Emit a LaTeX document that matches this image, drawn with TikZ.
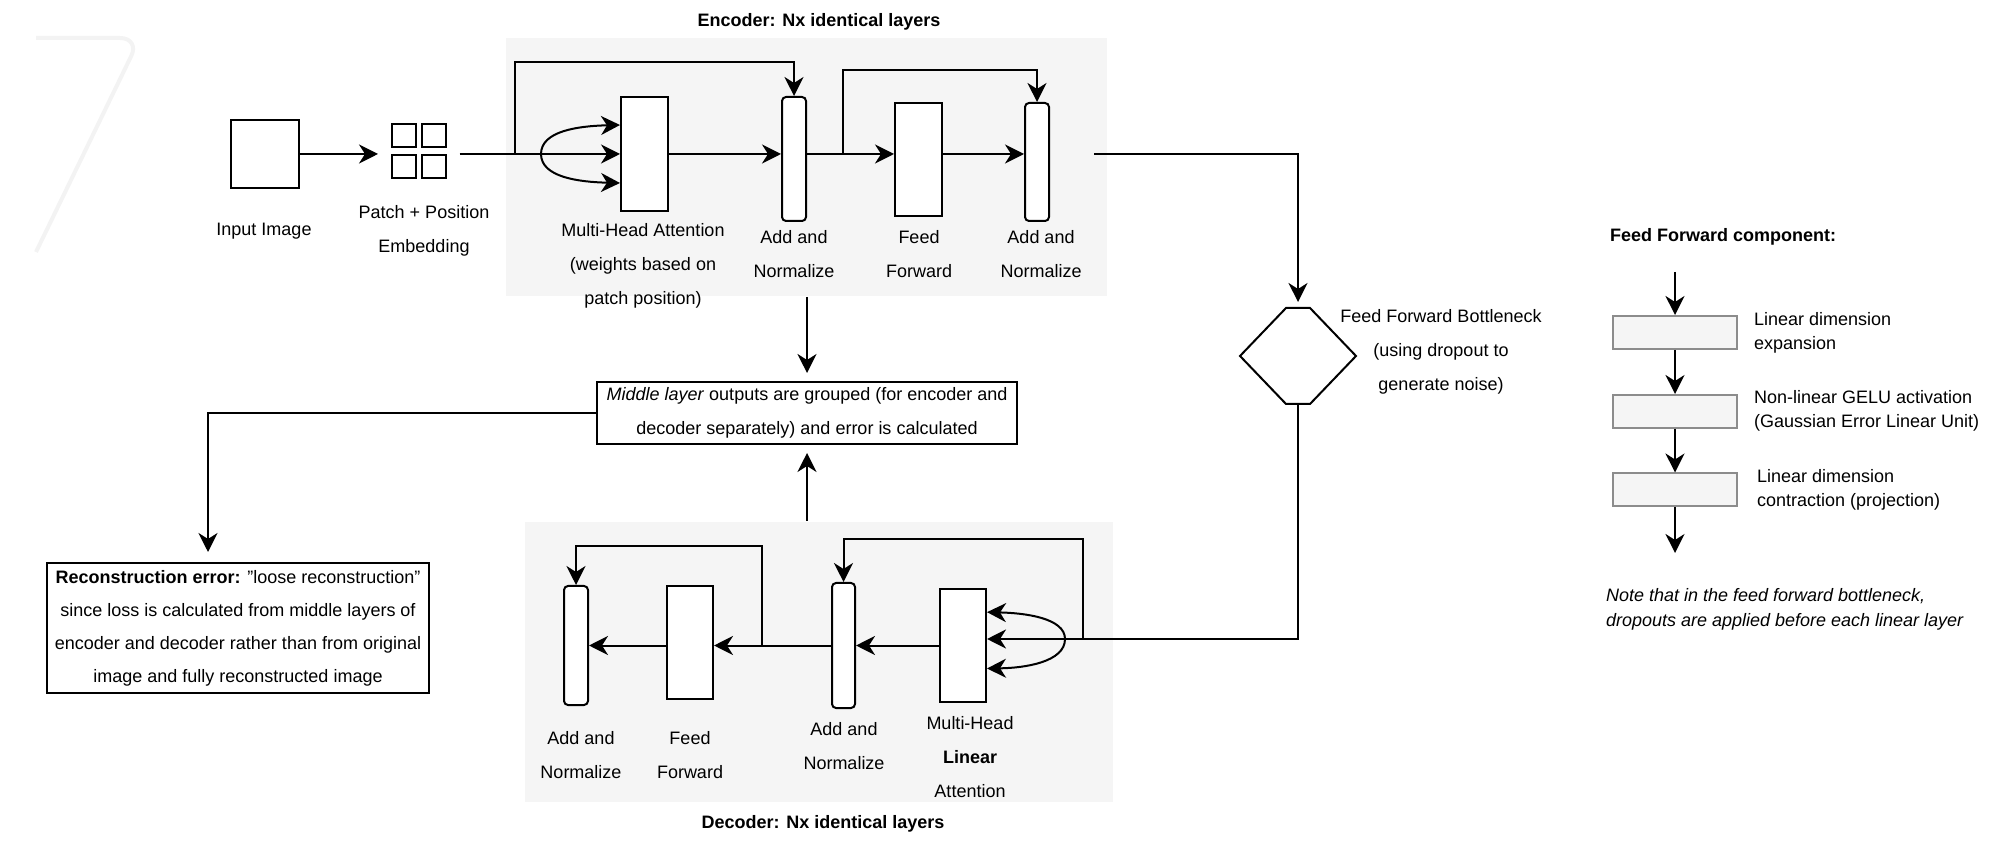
\documentclass[tikz,border=0pt]{standalone}
\usepackage{fontspec}
\setmainfont{Liberation Sans}
\usetikzlibrary{arrows.meta,calc,fit}
\definecolor{bgfill}{HTML}{F5F5F5}
\definecolor{ffborder}{HTML}{8C8C8C}
\definecolor{faintmark}{HTML}{F3F3F3}
\begin{document}
\begin{tikzpicture}[x=0.5pt,y=-0.5pt,line width=1pt,
  arr/.style={-{Stealth[length=9.5pt,width=9.5pt,inset=3pt]}},
  bgbox/.style={fill=bgfill,draw=none,inner sep=0pt},
  blk/.style={draw,fill=white,inner sep=0pt},
  anbox/.style={draw,fill=white,inner sep=0pt,rounded corners=2pt,minimum width=12pt},
  lbl/.style={font=\fontsize{9}{17}\selectfont,align=center,inner sep=0pt},
  textbox/.style={draw,fill=white,inner sep=0pt,font=\fontsize{9}{17}\selectfont,align=center},
  titlelbl/.style={font=\bfseries\fontsize{9}{11}\selectfont,inner sep=0pt},
  ffbox/.style={draw=ffborder,fill=bgfill,inner sep=0pt,minimum width=62pt,minimum height=16.5pt},
  fflbl/.style={font=\fontsize{9}{12}\selectfont,align=left,inner sep=0pt,anchor=west}]
\useasboundingbox (0,0) rectangle (2016,854);
% faint mark
\draw[faintmark,line width=2pt,rounded corners=10pt] (36,38) -- (140,38) -- (36,252);

% backgrounds
\node[bgbox,minimum width=300.5pt,minimum height=129pt] (encbg) at (806.5,167) {};
\node[bgbox,minimum width=294pt,minimum height=140pt] (decbg) at (819,662) {};
\node[titlelbl] (enctitle) at (819,22) {Encoder: Nx identical layers};
\node[titlelbl] (dectitle) at (823,824) {Decoder: Nx identical layers};

% input and patches
\node[blk,minimum width=34pt,minimum height=34pt] (inimg) at (265,154) {};
\node[lbl] (inimglbl) at (264,231) {Input Image};
\node[blk,minimum width=12pt,minimum height=11.5pt] (p1) at (404,135.5) {};
\node[blk,minimum width=12pt,minimum height=11.5pt] (p2) at (433.5,135.5) {};
\node[blk,minimum width=12pt,minimum height=11.5pt] (p3) at (404,167) {};
\node[blk,minimum width=12pt,minimum height=11.5pt] (p4) at (433.5,167) {};
\node[fit=(p1)(p4),inner sep=6pt] (patch) {};
\node[lbl] (patchlbl) at (424,231) {Patch + Position\\Embedding};

% encoder blocks
\node[blk,minimum width=23.5pt,minimum height=57pt] (mha) at (644.5,154) {};
\node[lbl] (mhalbl) at (643,265.5) {Multi-Head Attention\\(weights based on\\patch position)};
\node[anbox,minimum height=62pt] (an1) at (794,159) {};
\node[lbl] (an1lbl) at (794,254) {Add and\\Normalize};
\node[blk,minimum width=23.5pt,minimum height=56.5pt] (ff) at (918.5,159.5) {};
\node[lbl] (fflbl) at (919,254) {Feed\\Forward};
\node[anbox,minimum height=59pt] (an2) at (1037,162) {};
\node[lbl] (an2lbl) at (1041,254) {Add and\\Normalize};

% encoder connectors
\draw[arr] (inimg.east) -- (inimg.east -| patch.west);
\draw[arr] (inimg.east -| patch.east) -- (inimg.east -| mha.west);
\coordinate (s1) at (515,154);
\draw[arr] (s1) -- (s1 |- 0,62) -| (an1.north);
\coordinate (fan1) at (541,154);
\draw[arr] (fan1) .. controls (541,131) and (578,126) .. ($(mha.north west)!0.25!(mha.south west)$);
\draw[arr] (fan1) .. controls (541,177) and (578,182) .. ($(mha.north west)!0.75!(mha.south west)$);
\draw[arr] (mha.east) -- (mha.east -| an1.west);
\draw[arr] (mha.east -| an1.east) -- (mha.east -| ff.west);
\coordinate (s2) at (843,154);
\draw[arr] (s2) -- (s2 |- 0,70) -| (an2.north);
\draw[arr] (mha.east -| ff.east) -- (mha.east -| an2.west);

% bottleneck
\coordinate (encout) at (1094,154);
\node[minimum width=57pt,minimum height=47pt,inner sep=0pt] (hex) at (1298,356) {};
\draw[fill=white] (hex.west) -- ([xshift=-6pt]hex.north) -- ([xshift=6pt]hex.north) -- (hex.east) -- ([xshift=6pt]hex.south) -- ([xshift=-6pt]hex.south) -- cycle;
\draw[arr,shorten >=3pt] (encout) -| (hex.north);
\node[lbl] (hexlbl) at (1441,352) {Feed Forward Bottleneck\\(using dropout to\\generate noise)};

% middle box and reconstruction
\node[textbox,minimum width=210pt,minimum height=31pt] (mid) at (807,413) {\textit{Middle layer} outputs are grouped (for encoder and\\decoder separately) and error is calculated};
\draw[arr,shorten >=4pt] (encbg.south -| mid.north) -- (mid.north);
\draw[arr,shorten >=4pt] (decbg.north -| mid.south) -- (mid.south);
\node[textbox,minimum width=191pt,minimum height=65pt,font=\fontsize{9}{16.5}\selectfont] (recon) at (238,628) {\textbf{Reconstruction error:} \symbol{34}loose reconstruction\symbol{34}\\since loss is calculated from middle layers of\\encoder and decoder rather than from original\\image and fully reconstructed image};
\draw[arr,shorten >=5pt] (mid.west) -| ([xshift=-15pt]recon.north);

% decoder blocks
\node[blk,minimum width=23pt,minimum height=56.5pt] (mhla) at (963,645.5) {};
\node[lbl] (mhlalbl) at (970,757) {Multi-Head\\\textbf{Linear}\\Attention};
\node[anbox,minimum width=11.5pt,minimum height=62.5pt] (dan1) at (843.5,645.5) {};
\node[lbl] (dan1lbl) at (844,746) {Add and\\Normalize};
\node[blk,minimum width=23pt,minimum height=56.5pt] (dff) at (690,642.5) {};
\node[lbl] (dfflbl) at (690,755.5) {Feed\\Forward};
\node[anbox,minimum height=59.5pt] (dan2) at (576,645.5) {};
\node[lbl] (dan2lbl) at (581,755.5) {Add and\\Normalize};

% decoder connectors
\coordinate (din) at (1083,639);
\draw (hex.south) |- (din);
\draw[arr] (din) -- (din -| mhla.east);
\coordinate (fan2) at (1065,639);
\draw[arr] (fan2) .. controls (1065,618) and (1025,613) .. ($(mhla.north east)!0.21!(mhla.south east)$);
\draw[arr] (fan2) .. controls (1065,662) and (1025,668) .. ($(mhla.north east)!0.70!(mhla.south east)$);
\draw[arr] (din) -- (din |- 0,539) -| (dan1.north);
\draw[arr] (mhla.west) -- (mhla.west -| dan1.east);
\draw[arr] (mhla.west -| dan1.west) -- (mhla.west -| dff.east);
\coordinate (s3) at (762,645.5);
\draw[arr] (s3) -- (s3 |- 0,546) -| (dan2.north);
\draw[arr] (mhla.west -| dff.west) -- (mhla.west -| dan2.east);

% feed forward component panel
\node[titlelbl,anchor=west] (fftitle) at (1609,237) {Feed Forward component:};
\node[ffbox] (b1) at (1675,332.5) {};
\node[ffbox] (b2) at (1675,411.5) {};
\node[ffbox] (b3) at (1675,490) {};
\coordinate (ffin) at (1675,272);
\coordinate (ffout) at (1675,553);
\draw[arr] (ffin) -- (b1.north);
\draw[arr] (b1.south) -- (b2.north);
\draw[arr] (b2.south) -- (b3.north);
\draw[arr] (b3.south) -- (ffout);
\node[fflbl] (t1) at (1753,333) {Linear dimension\\expansion};
\node[fflbl] (t2) at (1753,411) {Non-linear GELU activation\\(Gaussian Error Linear Unit)};
\node[fflbl] (t3) at (1756,490) {Linear dimension\\contraction (projection)};
\node[fflbl,font=\itshape\fontsize{9}{12.5}\selectfont] (note) at (1605,609.5) {Note that in the feed forward bottleneck,\\dropouts are applied before each linear layer};
\end{tikzpicture}
\end{document}
